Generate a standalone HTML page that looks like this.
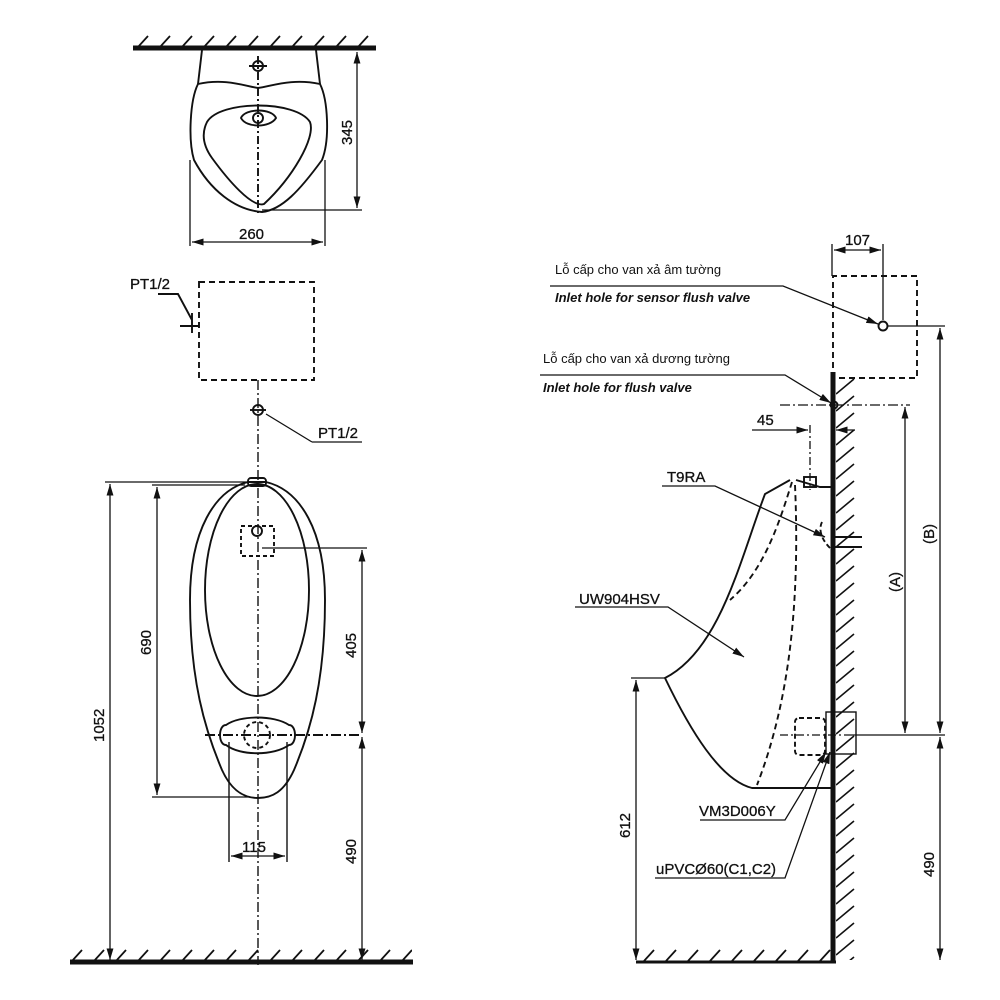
<!DOCTYPE html>
<html><head><meta charset="utf-8"><style>
html,body{margin:0;padding:0;background:#fff}
svg{display:block}
text{font-family:"Liberation Sans","Noto Sans CJK JP",sans-serif;fill:#111}
</style></head><body>
<svg width="1000" height="1000" viewBox="0 0 1000 1000" xmlns="http://www.w3.org/2000/svg">
<defs>
<marker id="a" viewBox="0 0 10 10" refX="10" refY="5" markerWidth="9" markerHeight="9" orient="auto-start-reverse"><path d="M0,2 L10,5 L0,8 z" fill="#111"/></marker>
<pattern id="h" x="2" y="35" width="22" height="12" patternUnits="userSpaceOnUse"><path d="M4,12 L14,1" stroke="#111" stroke-width="1.8"/></pattern>
<pattern id="hf" x="2" y="949" width="22" height="12" patternUnits="userSpaceOnUse"><path d="M4,12 L14,1" stroke="#111" stroke-width="1.8"/></pattern>
<pattern id="hv" x="836" y="378" width="22" height="17" patternUnits="userSpaceOnUse"><path d="M0,16 L18,1" stroke="#111" stroke-width="1.6"/></pattern>
</defs>
<g fill="none" stroke="#111" stroke-width="1.9">
<!-- TOP VIEW -->
<rect x="135" y="35" width="240" height="12" fill="url(#h)" stroke="none"/>
<line x1="133" y1="48" x2="376" y2="48" stroke-width="5"/>
<path d="M202,50 L198,84 M316,50 L320,84"/>
<path d="M198,84 C225,78 245,86 258,88 C272,86 292,78 320,84 C328,100 330,140 322,160 C300,190 282,210 262,212 C235,210 210,190 194,160 C188,140 190,100 198,84 Z"/>
<path d="M207,122 C220,100 296,100 310,122 C316,138 292,178 264,204 C252,208 228,180 212,158 C202,144 202,132 207,122 Z"/>
<path d="M241,118 C245,108 272,108 276,118 C270,128 246,128 241,118 Z"/>
<circle cx="258" cy="118" r="5"/>
<circle cx="258" cy="66" r="5"/>
<line x1="249" y1="66" x2="267" y2="66"/>
<line x1="258" y1="56" x2="258" y2="215" stroke-dasharray="8,3,2,3"/>
<line x1="262" y1="210" x2="362" y2="210" stroke-width="1.3"/>
<line x1="357" y1="52" x2="357" y2="208" stroke-width="1.3" marker-start="url(#a)" marker-end="url(#a)"/>
<line x1="190" y1="160" x2="190" y2="246" stroke-width="1.3"/>
<line x1="325" y1="160" x2="325" y2="246" stroke-width="1.3"/>
<line x1="192" y1="242" x2="323" y2="242" stroke-width="1.3" marker-start="url(#a)" marker-end="url(#a)"/>
<!-- dashed box -->
<rect x="199" y="282" width="115" height="98" stroke-dasharray="6,4"/>
<line x1="258" y1="380" x2="258" y2="965" stroke-dasharray="10,3,2,3" stroke-width="1.4"/>
<path d="M158,294 L178,294 L192,320 M192,313 L192,333 M180,326 L199,326"/>
<circle cx="258" cy="410" r="5"/>
<line x1="250" y1="410" x2="266" y2="410"/>
<path d="M312,442 L362,442 M312,442 L266,414" stroke-width="1.3"/>
<!-- FRONT VIEW -->
<path d="M248,482 C215,490 190,530 190,600 C190,680 205,730 222,770 C232,792 245,798 258,798 C272,798 284,792 294,770 C311,730 325,680 325,600 C325,530 300,490 266,482 Z"/>
<rect x="248" y="478" width="18" height="8" rx="3"/>
<ellipse cx="257" cy="590" rx="52" ry="106"/>
<rect x="241" y="526" width="33" height="30" stroke-dasharray="4,3"/>
<circle cx="257" cy="531" r="5"/>
<path d="M226,725 C240,715 274,715 289,725 C297,725 297,745 289,745 C274,756 240,756 226,745 C218,745 218,725 226,725 Z"/>
<circle cx="257" cy="735" r="13" stroke-dasharray="4,3"/>
<line x1="205" y1="735" x2="360" y2="735" stroke-dasharray="10,3,2,3"/>
<line x1="229" y1="742" x2="229" y2="862" stroke-width="1.4"/>
<line x1="287" y1="742" x2="287" y2="862" stroke-width="1.4"/>
<line x1="231" y1="856" x2="285" y2="856" stroke-width="1.3" marker-start="url(#a)" marker-end="url(#a)"/>
<line x1="105" y1="482" x2="250" y2="482" stroke-width="1.3"/>
<line x1="110" y1="484" x2="110" y2="960" stroke-width="1.3" marker-start="url(#a)" marker-end="url(#a)"/>
<line x1="152" y1="485" x2="245" y2="485" stroke-width="1.3"/>
<line x1="157" y1="487" x2="157" y2="795" stroke-width="1.3" marker-start="url(#a)" marker-end="url(#a)"/>
<line x1="152" y1="797" x2="250" y2="797" stroke-width="1.3"/>
<line x1="262" y1="548" x2="367" y2="548" stroke-width="1.3"/>
<line x1="362" y1="550" x2="362" y2="733" stroke-width="1.3" marker-start="url(#a)" marker-end="url(#a)"/>
<line x1="362" y1="737" x2="362" y2="960" stroke-width="1.3" marker-start="url(#a)" marker-end="url(#a)"/>
<rect x="72" y="949" width="340" height="12" fill="url(#hf)" stroke="none"/>
<line x1="70" y1="962" x2="413" y2="962" stroke-width="5"/>
<!-- SIDE VIEW -->
<rect x="836" y="378" width="20" height="582" fill="url(#hv)" stroke="none"/>
<line x1="833" y1="372" x2="833" y2="962" stroke-width="5"/>
<rect x="638" y="949" width="196" height="12" fill="url(#hf)" stroke="none"/>
<line x1="636" y1="962" x2="836" y2="962" stroke-width="3"/>
<path d="M833,378 L833,276 L917,276 L917,378 L836,378" stroke-dasharray="6,4"/>
<line x1="832" y1="244" x2="832" y2="276" stroke-width="1.3"/>
<line x1="883" y1="244" x2="883" y2="320" stroke-width="1.3"/>
<line x1="834" y1="250" x2="881" y2="250" stroke-width="1.3" marker-start="url(#a)" marker-end="url(#a)"/>
<circle cx="883" cy="326" r="4.5"/>
<line x1="888" y1="326" x2="945" y2="326" stroke-width="1.3"/>
<line x1="940" y1="328" x2="940" y2="733" stroke-width="1.3" marker-start="url(#a)" marker-end="url(#a)"/>
<line x1="940" y1="737" x2="940" y2="960" stroke-width="1.3" marker-start="url(#a)" marker-end="url(#a)"/>
<line x1="850" y1="735" x2="945" y2="735" stroke-width="1.3"/>
<circle cx="834" cy="405" r="3.5"/>
<line x1="780" y1="405" x2="910" y2="405" stroke-dasharray="10,3,2,3" stroke-width="1.3"/>
<line x1="905" y1="407" x2="905" y2="733" stroke-width="1.3" marker-start="url(#a)" marker-end="url(#a)"/>
<line x1="752" y1="430" x2="808" y2="430" stroke-width="1.3" marker-end="url(#a)"/>
<line x1="855" y1="430" x2="836" y2="430" stroke-width="1.3" marker-end="url(#a)"/>
<line x1="810" y1="425" x2="810" y2="490" stroke-dasharray="8,3,2,3" stroke-width="1.3"/>
<path d="M790,480 L765,494 C740,560 720,650 665,678 C690,730 720,780 752,788 L833,788"/>
<path d="M796,480 L820,487 L833,487"/>
<rect x="804" y="477" width="12" height="10"/>
<path d="M792,482 C780,520 765,570 730,600" stroke-dasharray="6,4"/>
<path d="M795,485 C800,600 790,700 757,785" stroke-dasharray="6,4"/>
<path d="M822,522 C818,530 822,540 830,548" stroke-dasharray="5,3"/>
<path d="M835,537 L862,537 M835,547 L862,547"/>
<rect x="795" y="718" width="30" height="37" rx="4" stroke-dasharray="5,3"/>
<rect x="826" y="712" width="30" height="42" stroke-width="1.4"/>
<line x1="780" y1="735" x2="850" y2="735" stroke-dasharray="8,3,2,3" stroke-width="1.3"/>
<line x1="631" y1="678" x2="665" y2="678" stroke-width="1.3"/>
<line x1="636" y1="680" x2="636" y2="960" stroke-width="1.3" marker-start="url(#a)" marker-end="url(#a)"/>
<!-- leaders -->
<path d="M550,286 L783,286 L878,324" stroke-width="1.3" marker-end="url(#a)"/>
<path d="M540,375 L785,375 L831,403" stroke-width="1.3" marker-end="url(#a)"/>
<path d="M662,486 L715,486 L825,537" stroke-width="1.3" marker-end="url(#a)"/>
<path d="M575,607 L668,607 L744,657" stroke-width="1.3" marker-end="url(#a)"/>
<path d="M700,820 L785,820 L826,752" stroke-width="1.3" marker-end="url(#a)"/>
<path d="M655,878 L785,878 L830,752" stroke-width="1.3" marker-end="url(#a)"/>
</g>
<g font-size="15" stroke="#111" stroke-width="0.3">
<text x="239" y="239">260</text>
<text x="352" y="145" transform="rotate(-90 352 145)">345</text>
<text x="130" y="289">PT1/2</text>
<text x="318" y="438">PT1/2</text>
<text x="151" y="655" transform="rotate(-90 151 655)">690</text>
<text x="104" y="742" transform="rotate(-90 104 742)">1052</text>
<text x="356" y="658" transform="rotate(-90 356 658)">405</text>
<text x="356" y="864" transform="rotate(-90 356 864)">490</text>
<text x="242" y="852">115</text>
<text x="845" y="245">107</text>
<text x="757" y="425">45</text>
<text x="667" y="482">T9RA</text>
<text x="579" y="604">UW904HSV</text>
<text x="699" y="816">VM3D006Y</text>
<text x="656" y="874">uPVCØ60(C1,C2)</text>
<text x="630" y="838" transform="rotate(-90 630 838)">612</text>
<text x="934" y="877" transform="rotate(-90 934 877)">490</text>
<text x="900" y="592" transform="rotate(-90 900 592)">(A)</text>
<text x="934" y="544" transform="rotate(-90 934 544)">(B)</text>
</g>
<g font-size="13">
<text x="555" y="274">Lỗ cấp cho van xả âm tường</text>
<text x="555" y="302" font-style="italic" font-weight="bold">Inlet hole for sensor flush valve</text>
<text x="543" y="363">Lỗ cấp cho van xả dương tường</text>
<text x="543" y="392" font-style="italic" font-weight="bold">Inlet hole for flush valve</text>
</g>
</svg>
</body></html>
